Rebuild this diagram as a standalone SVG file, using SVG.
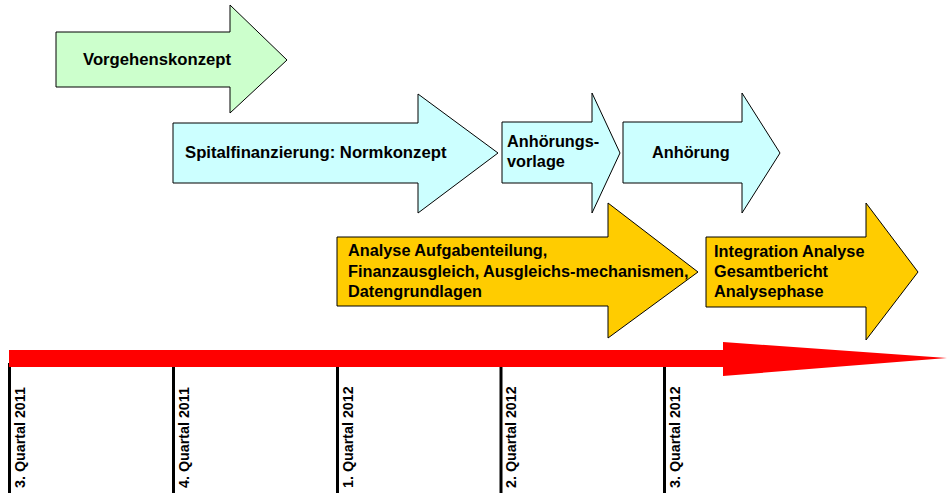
<svg xmlns="http://www.w3.org/2000/svg" width="947" height="493" viewBox="0 0 947 493">
<style>
.ar{stroke:#000;stroke-width:1;stroke-linejoin:miter}
.g{fill:#CCFFCC}
.c{fill:#CCFFFF}
.y{fill:#FFCC00}
.t{font-family:"Liberation Sans",Arial,sans-serif;font-weight:bold;font-size:16.3px;fill:#000}
.big{font-size:16.7px}
.q{font-family:"Liberation Sans",Arial,sans-serif;font-weight:bold;font-size:14.3px;fill:#000}
.tick{stroke:#000;stroke-width:3}
</style>
<rect width="947" height="493" fill="#fff"/>
<g id="n1">
<polygon class="ar g" points="56,32 230,32 230,5 287,60 230,113 230,87 56,87"/>
<text class="t big" x="83" y="65">Vorgehenskonzept</text>
</g>
<g id="n2">
<polygon class="ar c" points="173,123 418,123 418,94 498,153 418,213 418,183 173,183"/>
<text class="t big" x="185" y="158">Spitalfinanzierung: Normkonzept</text>
</g>
<g id="n3">
<polygon class="ar c" points="502,122 592,122 592,93 620,153 592,213 592,183 502,183"/>
<text class="t" x="507" y="147">Anhörungs-</text>
<text class="t" x="507" y="167">vorlage</text>
</g>
<g id="n4">
<polygon class="ar c" points="623,122 742,122 742,93 780,153 742,213 742,183 623,183"/>
<text class="t" x="652" y="158">Anhörung</text>
</g>
<g id="n5">
<polygon class="ar y" points="337,237 608,237 608,203 698,272 608,338 608,306 337,306"/>
<text class="t" x="348" y="256">Analyse Aufgabenteilung,</text>
<text class="t" x="348" y="277">Finanzausgleich, Ausgleichs-mechanismen,</text>
<text class="t" x="348" y="297">Datengrundlagen</text>
</g>
<g id="n6">
<polygon class="ar y" points="706,237 866,237 866,203 918,272 866,340 866,307 706,307"/>
<text class="t" x="714" y="257">Integration Analyse</text>
<text class="t" x="714" y="277">Gesamtbericht</text>
<text class="t" x="714" y="297">Analysephase</text>
</g>
<g id="timeline">
<line class="tick" x1="9.5" y1="363" x2="9.5" y2="493"/>
<line class="tick" x1="173.5" y1="363" x2="173.5" y2="493"/>
<line class="tick" x1="337.5" y1="363" x2="337.5" y2="493"/>
<line class="tick" x1="501" y1="363" x2="501" y2="493"/>
<line class="tick" x1="664.5" y1="363" x2="664.5" y2="493"/>
<polygon fill="#FF0000" points="9,350 723,350 723,342 947,358 723,376 723,367 9,367"/>
<text class="q" transform="translate(24.5,488) rotate(-90)">3. Quartal 2011</text>
<text class="q" transform="translate(188.5,488) rotate(-90)">4. Quartal 2011</text>
<text class="q" transform="translate(352.5,488) rotate(-90)">1. Quartal 2012</text>
<text class="q" transform="translate(516,488) rotate(-90)">2. Quartal 2012</text>
<text class="q" transform="translate(679.5,488) rotate(-90)">3. Quartal 2012</text>
</g>
</svg>
